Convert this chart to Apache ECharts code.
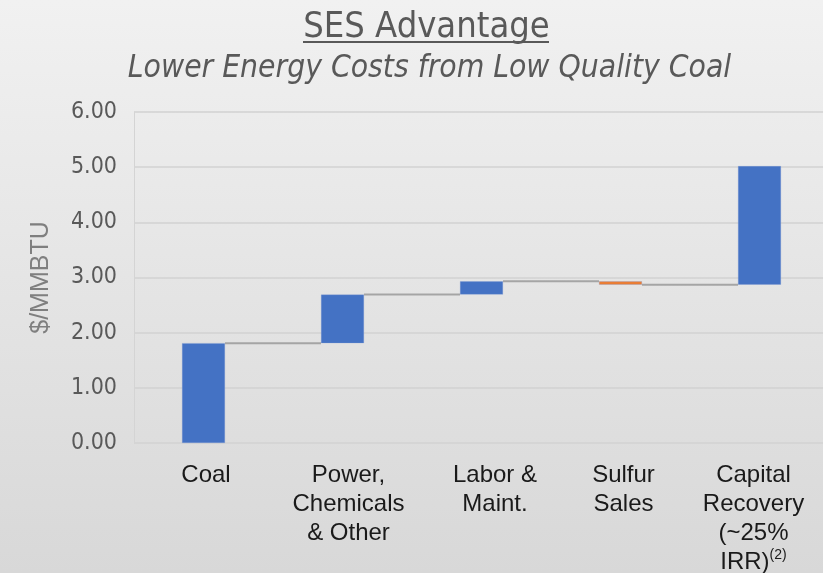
<!DOCTYPE html>
<html>
<head>
<meta charset="utf-8">
<script src="https://cdn.jsdelivr.net/npm/echarts@6/dist/echarts.min.js"></script>
<style>
  html, body { margin: 0; padding: 0; }
  #main { width: 823px; height: 573px; }
</style>
</head>
<body>
<div id="main"></div>
<script>
    // waterfall steps, $/MMBTU
    var categories = ['Coal', 'Power,\nChemicals\n& Other', 'Labor &\nMaint.', 'Sulfur\nSales', 'Capital\nRecovery\n(~25%\nIRR){sup|(2)}'];
    var deltas = [1.81, 0.88, 0.24, -0.06, 2.15];
    var yTicks = [0, 1, 2, 3, 4, 5, 6];

    var base = [];
    var height = [];
    var levels = [];
    var run = 0;
    for (var i = 0; i < deltas.length; i++) {
        var next = run + deltas[i];
        base.push(Math.min(run, next));
        height.push({
            value: Math.abs(deltas[i]),
            itemStyle: { color: deltas[i] < 0 ? '#ED7D31' : '#4472C4' }
        });
        levels.push(next);
        run = next;
    }
    var barW = 43;
    // excel wraps the labels a bit off the bar centre
    var labelShift = [2.5, 6, 13.5, 3, -6];
    var catData = categories.map(function (c, i) {
        var s = labelShift[i];
        return {
            value: c,
            textStyle: { padding: s >= 0 ? [0, 0, 0, 2 * s] : [0, -2 * s, 0, 0] }
        };
    });

    var myChart = echarts.init(document.getElementById('main'));
    var option = {
        backgroundColor: {
            type: 'linear', x: 0, y: 0, x2: 0, y2: 1,
            colorStops: [{ offset: 0, color: '#f1f1f1' }, { offset: 1, color: '#d8d8d8' }]
        },
        animation: false,
        title: [
            {
                text: 'SES Advantage',
                left: 421.5, top: 5, textAlign: 'center',
                textStyle: { fontFamily: 'DejaVu Sans Condensed, DejaVu Sans', fontSize: 36, fontWeight: 'normal', color: '#595959' }
            },
            {
                text: 'Lower Energy Costs from Low Quality Coal',
                left: 424.5, top: 48, textAlign: 'center',
                textStyle: { fontFamily: 'DejaVu Sans Condensed, DejaVu Sans', fontSize: 31.5, fontStyle: 'italic', fontWeight: 'normal', color: '#595959' }
            }
        ],
        graphic: [
            {
                type: 'line',
                shape: { x1: 303, y1: 42, x2: 549, y2: 42 },
                style: { stroke: '#595959', lineWidth: 2 }
            }
        ],
        grid: { left: 134, top: 112, bottom: 130, width: 695, outerBoundsMode: 'none' },
        xAxis: {
            type: 'category',
            data: catData,
            axisLine: { show: false },
            axisTick: { show: false },
            axisLabel: {
                interval: 0,
                margin: 18,
                fontFamily: 'Liberation Sans, Arial',
                fontSize: 24,
                lineHeight: 29,
                color: '#1a1a1a',
                rich: {
                    sup: { fontFamily: 'Liberation Sans, Arial', fontSize: 14, lineHeight: 29, verticalAlign: 'top', color: '#1a1a1a' }
                }
            }
        },
        yAxis: {
            type: 'value',
            min: yTicks[0],
            max: yTicks[yTicks.length - 1],
            interval: 1,
            name: '$/MMBTU',
            nameLocation: 'middle',
            nameGap: 80,
            nameTextStyle: { fontFamily: 'Liberation Sans, Arial', fontSize: 25, color: '#7f7f7f' },
            axisLine: { show: true, lineStyle: { color: '#d4d4d4' } },
            axisTick: { show: false },
            splitLine: { lineStyle: { color: '#d2d2d2', width: 1.5 } },
            axisLabel: {
                margin: 17,
                padding: [5, 0, 0, 0],
                fontFamily: 'DejaVu Sans Condensed, DejaVu Sans',
                fontSize: 23,
                color: '#595959',
                formatter: function (v) { return v.toFixed(2); }
            }
        },
        series: [
            {
                name: 'base',
                type: 'bar',
                stack: 'wf',
                barWidth: barW,
                itemStyle: { color: 'transparent' },
                silent: true,
                data: base
            },
            {
                name: 'step',
                type: 'bar',
                stack: 'wf',
                barWidth: barW,
                itemStyle: { borderColor: 'rgba(120,150,210,0.6)', borderWidth: 0.5 },
                data: height
            },
            {
                name: 'connector',
                type: 'custom',
                silent: true,
                data: levels.slice(0, levels.length - 1).map(function (v, i) { return [i, v]; }),
                renderItem: function (params, api) {
                    var i = api.value(0);
                    var p1 = api.coord([i, api.value(1)]);
                    var p2 = api.coord([i + 1, api.value(1)]);
                    return {
                        type: 'line',
                        shape: { x1: p1[0] + barW / 2, y1: p1[1], x2: p2[0] - barW / 2, y2: p2[1] },
                        style: { stroke: '#a5a5a5', lineWidth: 2 }
                    };
                }
            }
        ]
    };
    myChart.setOption(option);
</script>
</body>
</html>
